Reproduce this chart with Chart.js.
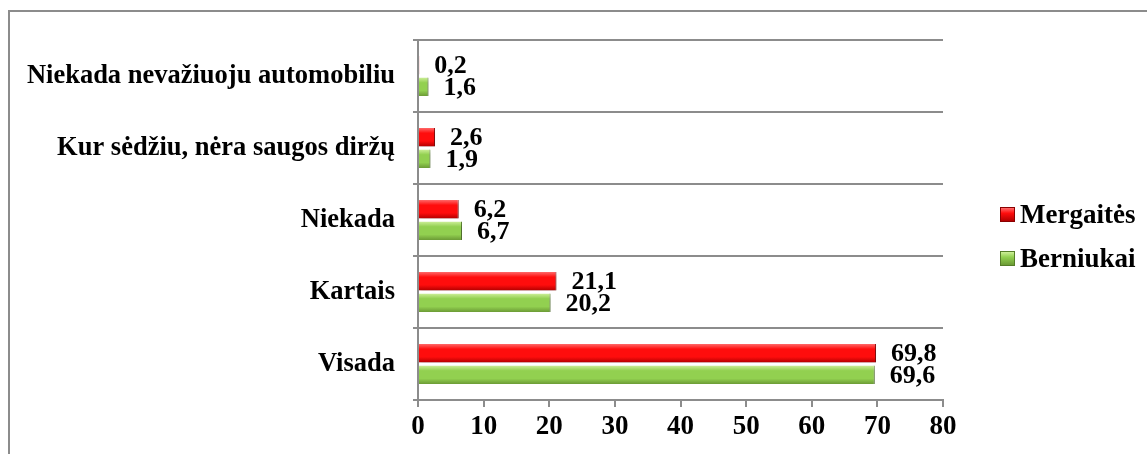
<!DOCTYPE html>
<html>
<head>
<meta charset="utf-8">
<script src="https://cdn.jsdelivr.net/npm/chart.js@4"></script>
<style>
    html, body { margin: 0; padding: 0; background: #fff; }
    body { width: 1147px; height: 454px; position: relative; overflow: hidden; }
    .frame {
        position: absolute; left: 8px; top: 10px; width: 1200px; height: 500px;
        border-top: 2px solid #8c8c8c; border-left: 2px solid #8c8c8c;
    }
    #seatbeltChart { position: absolute; left: 0; top: 0; }
    .legend {
        position: absolute; left: 1000px; top: 192px;
        font: bold 27px "Liberation Serif", "Times New Roman", serif; color: #000;
    }
    .legend div { height: 44px; display: flex; align-items: center; white-space: nowrap; }
    .legend span.box {
        display: inline-block; width: 15px; height: 15px; margin-right: 5px;
        box-sizing: border-box;
    }
</style>
</head>
<body>
<div class="frame"></div>
<canvas id="seatbeltChart" width="1147" height="454"></canvas>
<div class="legend" id="legend"></div>

<script>
/* ========================================
   Seat belt use - horizontal bar chart
   ======================================== */

const categories = [
    'Niekada nevažiuoju automobiliu',
    'Kur sėdžiu, nėra saugos diržų',
    'Niekada',
    'Kartais',
    'Visada'
];
const seriesNames = ['Mergaitės', 'Berniukai'];
const girls = [0.2, 2.6, 6.2, 21.1, 69.8];
const boys = [1.6, 1.9, 6.7, 20.2, 69.6];
const xTicks = [0, 10, 20, 30, 40, 50, 60, 70, 80];

// base colour, top highlight, bottom shade, right edge
const palette = {
    red:   { base: '#ff0d0d', light: '#ff6a6a', dark: '#b30000', edge: '#8a0000' },
    green: { base: '#92d050', light: '#cdef98', dark: '#6b9a35', edge: '#557d28' }
};

const FONT = '"Liberation Serif", "Times New Roman", serif';

/**
 * Bevel look: vertical gradient per bar, plus a soft drop shadow
 */
const bevelPlugin = {
    id: 'bevel',
    beforeDatasetDraw(chart, args) {
        const ctx = chart.ctx;
        const meta = chart.getDatasetMeta(args.index);
        const pal = args.index === 0 ? palette.red : palette.green;
        meta.data.forEach(function (bar) {
            const top = bar.y - bar.height / 2;
            const g = ctx.createLinearGradient(0, top, 0, top + bar.height);
            g.addColorStop(0, pal.light);
            g.addColorStop(0.28, pal.base);
            g.addColorStop(0.7, pal.base);
            g.addColorStop(1, pal.dark);
            bar.options.backgroundColor = g;
        });
        ctx.save();
        ctx.shadowColor = 'rgba(0,0,0,0.28)';
        ctx.shadowBlur = 4;
        ctx.shadowOffsetY = 3;
        ctx.shadowOffsetX = 1;
    },
    afterDatasetDraw(chart) {
        chart.ctx.restore();
    }
};

/**
 * Value labels to the right of each bar, with a decimal comma
 */
const valueLabelPlugin = {
    id: 'valueLabels',
    afterDatasetsDraw(chart) {
        const ctx = chart.ctx;
        ctx.save();
        ctx.font = 'bold 26px ' + FONT;
        ctx.fillStyle = '#000';
        ctx.textAlign = 'left';
        ctx.textBaseline = 'middle';
        chart.data.datasets.forEach(function (ds, i) {
            const meta = chart.getDatasetMeta(i);
            meta.data.forEach(function (bar, j) {
                const txt = ds.data[j].toFixed(1).replace('.', ',');
                ctx.fillText(txt, bar.x + 15, bar.y + 1);
            });
        });
        ctx.restore();
    }
};

function buildLegend() {
    const el = document.getElementById('legend');
    const pals = [palette.red, palette.green];
    seriesNames.forEach(function (name, i) {
        const p = pals[i];
        el.innerHTML += '<div><span class="box" style="background:linear-gradient(' +
            p.light + ',' + p.base + ' 40%,' + p.dark + ');border:1px solid ' + p.edge +
            '"></span>' + name + '</div>';
    });
}

// scriptable colour so every bar keeps its own options object
function barColor(name) {
    return function () { return palette[name].base; };
}

function initChart() {
    const ctx = document.getElementById('seatbeltChart').getContext('2d');

    new Chart(ctx, {
        type: 'bar',
        data: {
            labels: categories,
            datasets: [{
                label: seriesNames[0],
                data: girls,
                backgroundColor: barColor('red'),
                borderColor: palette.red.edge,
                borderWidth: { right: 1 },
                borderSkipped: false,
                categoryPercentage: 0.6,
                barPercentage: 0.86
            }, {
                label: seriesNames[1],
                data: boys,
                backgroundColor: barColor('green'),
                borderColor: palette.green.edge,
                borderWidth: { right: 1 },
                borderSkipped: false,
                categoryPercentage: 0.6,
                barPercentage: 0.86
            }]
        },
        options: {
            indexAxis: 'y',
            responsive: false,
            animation: false,
            layout: { padding: { top: 40, right: 204, left: 0, bottom: 0 } },
            plugins: {
                legend: { display: false },
                tooltip: { enabled: false }
            },
            scales: {
                x: {
                    min: 0,
                    max: 80,
                    afterBuildTicks: function (scale) {
                        scale.ticks = xTicks.map(function (v) { return { value: v }; });
                    },
                    grid: {
                        drawOnChartArea: false,
                        drawTicks: true,
                        tickLength: 7,
                        color: '#8c8c8c',
                        lineWidth: 2
                    },
                    border: { display: true, color: '#8c8c8c', width: 2 },
                    ticks: {
                        color: '#000',
                        padding: 4,
                        font: { family: FONT, size: 27, weight: 'bold' }
                    },
                    afterFit: function (scale) { scale.height = 54; }
                },
                y: {
                    grid: {
                        offset: true,
                        drawOnChartArea: true,
                        drawTicks: true,
                        tickLength: 5,
                        color: '#8c8c8c',
                        lineWidth: 2
                    },
                    border: { display: true, color: '#8c8c8c', width: 2 },
                    ticks: {
                        color: '#000',
                        padding: 18,
                        font: { family: FONT, size: 26.5, weight: 'bold' }
                    },
                    afterFit: function (scale) { scale.width = 418; }
                }
            }
        },
        plugins: [bevelPlugin, valueLabelPlugin]
    });
}

document.addEventListener('DOMContentLoaded', function () {
    buildLegend();
    initChart();
});
</script>
</body>
</html>
